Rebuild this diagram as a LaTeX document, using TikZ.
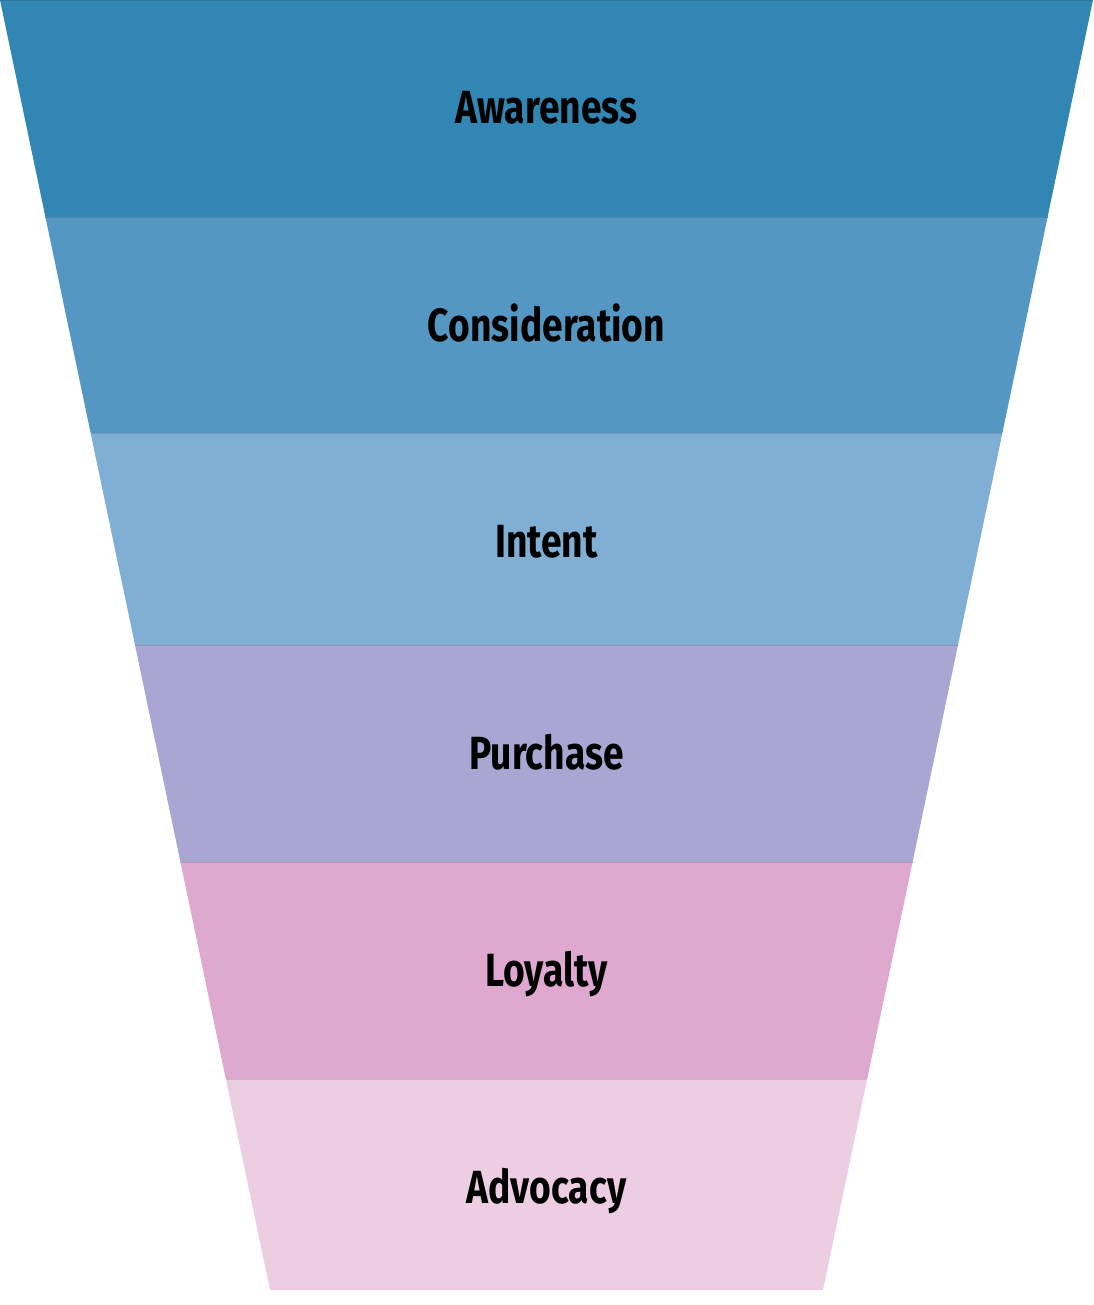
\documentclass[tikz,border=0pt]{standalone}
\usepackage{fontspec}
\newfontfamily\funnelfont{Fira Sans}[FakeStretch=0.8]
\usepackage{xcolor}
\usepackage{tikz}

\definecolor{awareBlue}{HTML}{3286B3}
\definecolor{considBlue}{HTML}{5597C3}
\definecolor{intentBlue}{HTML}{80AFD3}
\definecolor{purchLilac}{HTML}{A9A6D3}
\definecolor{loyalPink}{HTML}{DFA8CE}
\definecolor{advocPink}{HTML}{EDCDE2}

\tikzset{bandlabel/.style={font=\funnelfont\bfseries\fontsize{46.5}{52}\selectfont,text=black,anchor=base}}

\begin{document}
\begin{tikzpicture}[x=1pt,y=-1pt]
        \useasboundingbox (0,0) rectangle (1093,1305);
        \newcommand\funnelBand[5]{\fill[#1] ({0.2093*#2},#2) -- ({1093-0.2093*#2},#2) -- ({1093-0.2093*#3},#3) -- ({0.2093*#3},#3) -- cycle;
                \draw[#1!88!black,line width=0.6pt] ({0.2093*#2},#2) -- ({1093-0.2093*#2},#2);
                \node[bandlabel] (#4) at (546.5,{#2+124}) {#5}}
        \funnelBand{awareBlue}{0}{217}{awareness}{Awareness};
        \funnelBand{considBlue}{217}{433}{consideration}{Consideration};
        \funnelBand{intentBlue}{433}{645}{intent}{Intent};
        \funnelBand{purchLilac}{645}{862}{purchase}{Purchase};
        \funnelBand{loyalPink}{862}{1079}{loyalty}{Loyalty};
        \funnelBand{advocPink}{1079}{1290}{advocacy}{Advocacy};
        \end{tikzpicture}
\end{document}
